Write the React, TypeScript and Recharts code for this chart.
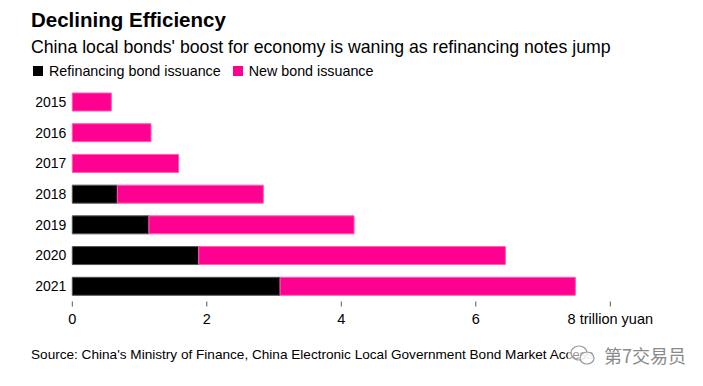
import { Bar, BarChart, XAxis, YAxis } from "recharts";

document.body.style.margin = "0";

const YEARS = ["2015", "2016", "2017", "2018", "2019", "2020", "2021"];
const REFINANCING = [0, 0, 0, 0.67, 1.14, 1.88, 3.09];
const NEW_ISSUANCE = [0.58, 1.17, 1.58, 2.17, 3.05, 4.56, 4.39];
const X_TICKS = [0, 2, 4, 6, 8];

const FONT = '"Liberation Sans", Arial, sans-serif';
const MAGENTA = "#ff0090";

const data = YEARS.map((year, i) => ({
  year,
  refinancing: REFINANCING[i],
  newIssuance: NEW_ISSUANCE[i],
}));

function LegendItem({ color, label }: { color: string; label: string }) {
  return (
    <div style={{ display: "flex", alignItems: "center", marginRight: 12 }}>
      <div style={{ width: 10, height: 10, background: color, marginRight: 6 }} />
      <span>{label}</span>
    </div>
  );
}

export default function App() {
  return (
    <div
      style={{
        position: "relative",
        width: 703,
        height: 386,
        background: "#fff",
        fontFamily: FONT,
        color: "#000",
        overflow: "hidden",
      }}
    >
      <div style={{ position: "absolute", left: 31, top: 8, fontSize: 20.5, fontWeight: 700 }}>
        Declining Efficiency
      </div>
      <div style={{ position: "absolute", left: 31, top: 37, fontSize: 17.7 }}>
        China local bonds' boost for economy is waning as refinancing notes jump
      </div>
      <div
        style={{
          position: "absolute",
          left: 33,
          top: 63,
          fontSize: 14.3,
          display: "flex",
        }}
      >
        <LegendItem color="#000" label="Refinancing bond issuance" />
        <LegendItem color={MAGENTA} label="New bond issuance" />
      </div>

      <div style={{ position: "absolute", left: 0, top: 0 }}>
        <BarChart
          layout="vertical"
          width={703}
          height={386}
          data={data}
          margin={{ top: 86.5, right: 92.7, bottom: 54.5, left: 0 }}
          barCategoryGap={6.5}
        >
          <XAxis
            type="number"
            domain={[0, 8]}
            ticks={X_TICKS}
            height={30}
            axisLine={false}
            tickLine={{ stroke: "#555" }}
            tickSize={5}
            tickMargin={7}
            tick={{ fontSize: 14.5, fill: "#000", fontFamily: FONT }}
            tickFormatter={(v: number) => (v === 8 ? "8 trillion yuan" : String(v))}
            interval={0}
          />
          <YAxis
            type="category"
            dataKey="year"
            width={72.3}
            axisLine={false}
            tickLine={false}
            tickSize={0}
            tickMargin={6}
            tick={{ fontSize: 14, fill: "#000", fontFamily: FONT }}
          />
          <Bar
            dataKey="refinancing"
            stackId="a"
            fill="#000"
            stroke="#555"
            strokeWidth={1}
            isAnimationActive={false}
          />
          <Bar
            dataKey="newIssuance"
            stackId="a"
            fill={MAGENTA}
            stroke="#ff5caf"
            strokeWidth={1}
            isAnimationActive={false}
          />
        </BarChart>
      </div>

      <div
        style={{
          position: "absolute",
          left: 31,
          top: 347,
          fontSize: 13.6,
          whiteSpace: "nowrap",
        }}
      >
        Source: China's Ministry of Finance, China Electronic Local Government Bond Market Access
      </div>
      <div
        style={{
          position: "absolute",
          left: 568,
          top: 340,
          width: 135,
          height: 30,
          display: "flex",
          alignItems: "center",
          background: "rgba(255,255,255,0.6)",
          color: "#8a8a8a",
          fontSize: 18,
          fontFamily: '"Noto Sans CJK SC", sans-serif',
        }}
      >
        <svg width={30} height={26} style={{ marginRight: 6 }}>
          <ellipse cx={11} cy={11} rx={8} ry={7} fill="none" stroke="#9a9a9a" strokeWidth={1.2} />
          <ellipse cx={19} cy={16} rx={7} ry={6} fill="rgba(255,255,255,0.8)" stroke="#9a9a9a" strokeWidth={1.2} />
        </svg>
        <span>第7交易员</span>
      </div>
    </div>
  );
}
